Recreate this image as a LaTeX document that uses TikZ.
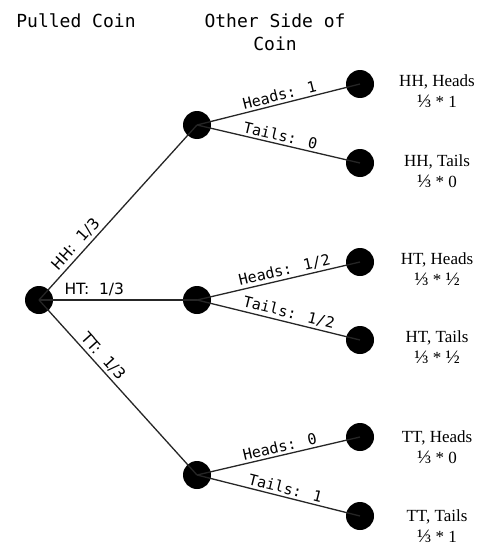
\documentclass[tikz,border=0pt]{standalone}
\usepackage{fontspec}
\setmainfont{Liberation Serif}
\newfontfamily\monof{DejaVu Sans Mono}
\newfontfamily\sansf{DejaVu Sans}
\begin{document}
\begin{tikzpicture}[x=1pt,y=-1pt,
 dot/.style={circle,fill=black,minimum size=28pt,inner sep=0pt},
 edge/.style={line width=1.3pt, draw=black!85},
 elab/.style={sloped,above,font=\monof\fontsize{15}{18}\selectfont,inner sep=2.5pt},
 rlab/.style={sloped,above,font=\sansf\fontsize{15.5}{18}\selectfont,inner sep=3pt},
 leaf/.style={align=center,font=\fontsize{17}{21}\selectfont},
 frac/.style={font=\fontsize{19}{21}\selectfont},
 title/.style={align=center,font=\monof\fontsize{18}{23}\selectfont}]
\useasboundingbox (0,0) rectangle (490,551);
\node[title] (t1) at (76,21) {Pulled Coin};
\node[title] (t2) at (275,32) {Other Side of\\Coin};

\node[dot] (r) at (39,300) {};
\node[dot] (a) at (197,125) {};
\node[dot] (b) at (197,300) {};
\node[dot] (c) at (197,475) {};
\node[dot] (a1) at (360,84) {};
\node[dot] (a2) at (360,163) {};
\node[dot] (b1) at (360,262) {};
\node[dot] (b2) at (360,340) {};
\node[dot] (c1) at (360,437) {};
\node[dot] (c2) at (360,516) {};

\draw[edge] (r.center) -- node[rlab,pos=0.28] {HH:~~1/3} (a.center);
\draw[edge] (r.center) -- node[rlab,pos=0.35] {HT:~~1/3} (b.center);
\draw[edge] (r.center) -- node[rlab,pos=0.36] {TT:~~1/3} (c.center);

\draw[edge] (a.center) -- node[elab,pos=0.52] {Heads: 1} (a1.center);
\draw[edge] (a.center) -- node[elab,pos=0.5] {Tails: 0} (a2.center);
\draw[edge] (b.center) -- node[elab,pos=0.55] {Heads: 1/2} (b1.center);
\draw[edge] (b.center) -- node[elab,pos=0.55] {Tails: 1/2} (b2.center);
\draw[edge] (c.center) -- node[elab,pos=0.52] {Heads: 0} (c1.center);
\draw[edge] (c.center) -- node[elab,pos=0.53] {Tails: 1} (c2.center);

\node[leaf] (l1) at (437,91) {HH, Heads\\{\fontsize{19}{21}\selectfont ⅓} * 1};
\node[leaf] (l2) at (437,171) {HH, Tails\\{\fontsize{19}{21}\selectfont ⅓} * 0};
\node[leaf] (l3) at (437,269) {HT, Heads\\{\fontsize{19}{21}\selectfont ⅓} * {\fontsize{19}{21}\selectfont ½}};
\node[leaf] (l4) at (437,347) {HT, Tails\\{\fontsize{19}{21}\selectfont ⅓} * {\fontsize{19}{21}\selectfont ½}};
\node[leaf] (l5) at (437,447) {TT, Heads\\{\fontsize{19}{21}\selectfont ⅓} * 0};
\node[leaf] (l6) at (437,526) {TT, Tails\\{\fontsize{19}{21}\selectfont ⅓} * 1};
\end{tikzpicture}
\end{document}
